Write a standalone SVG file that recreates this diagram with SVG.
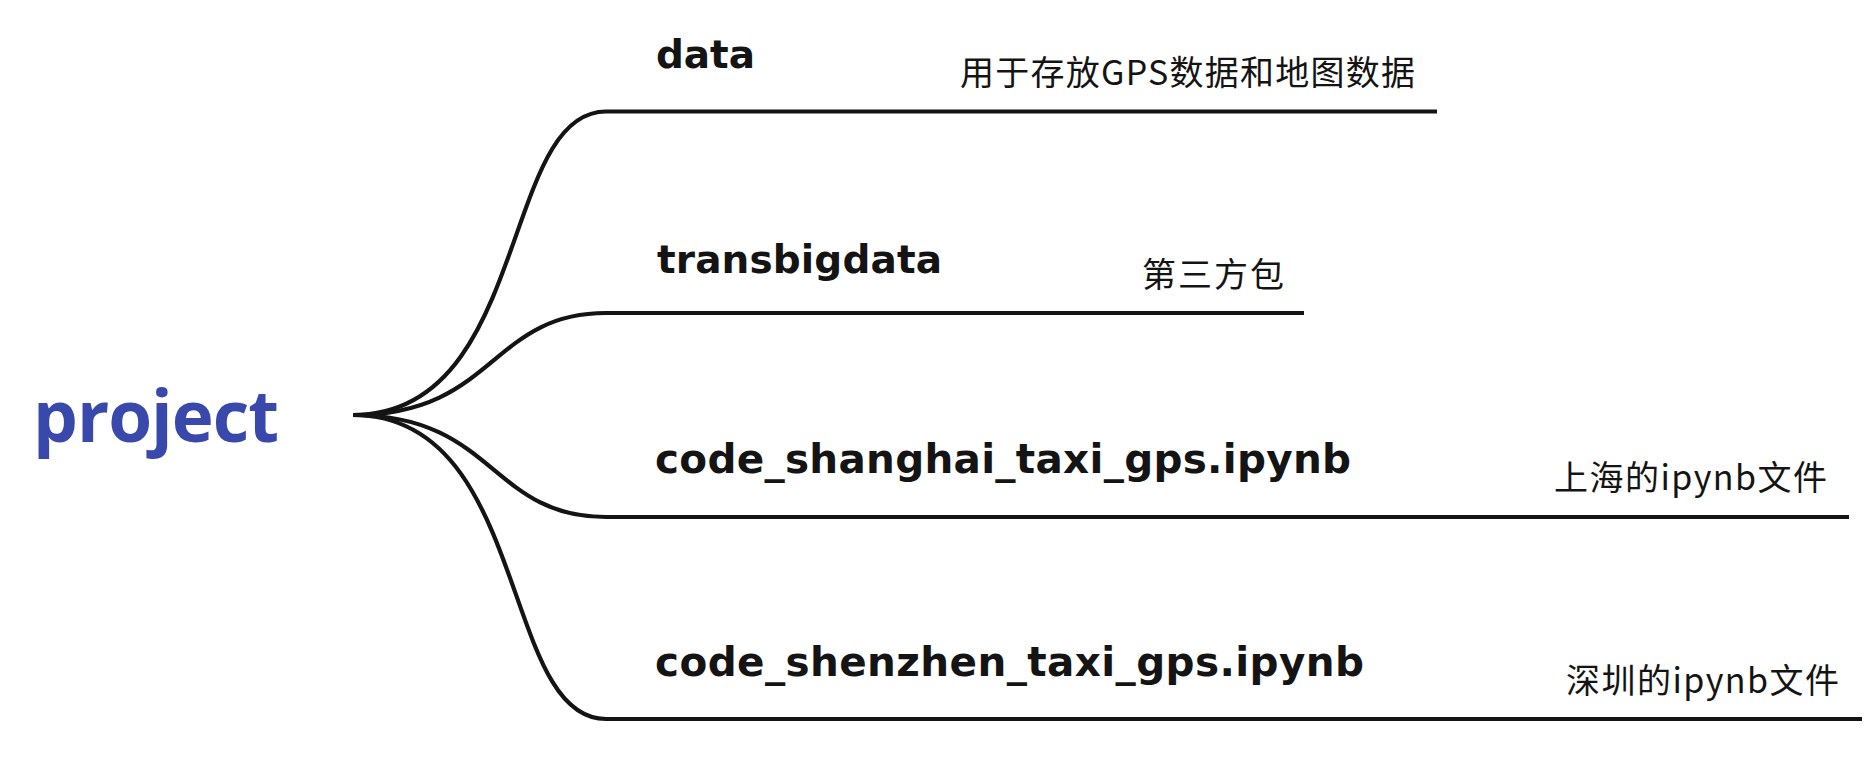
<svg xmlns="http://www.w3.org/2000/svg" width="1871" height="776" viewBox="0 0 1871 776">
<style>
.bg{fill:#ffffff}
.conn{fill:none;stroke:#141414;stroke-width:4.2;stroke-linecap:butt;stroke-linejoin:round}
.root{font-family:"Open Sans","DejaVu Sans",sans-serif;font-weight:700;font-size:71px;fill:#3949ab}
.topic{font-family:"DejaVu Sans","Open Sans",sans-serif;font-weight:700;font-size:39px;fill:#141414}
.topic.long{font-size:40.5px}
.note{font-family:"Noto Sans CJK SC","Noto Sans",sans-serif;font-weight:400;font-size:34px;fill:#141414}
</style>
<rect class="bg" x="0" y="0" width="1871" height="776"/>
<g id="connectors">
<path class="conn" d="M353,415 C530,415 500,111.5 606,111.5 L1437,111.5"/>
<path class="conn" d="M353,415 C495,415 490,313 606,313 L1304,313"/>
<path class="conn" d="M353,415 C495,415 490,517 606,517 L1849,517"/>
<path class="conn" d="M353,415 C530,415 500,719 606,719 L1862,719"/>
</g>
<g id="node-project">
<text class="root" x="33" y="442" textLength="246">project</text>
</g>
<g id="node-data">
<text class="topic" x="656" y="68" textLength="99">data</text>
<text class="note" x="960" y="85" textLength="455">用于存放GPS数据和地图数据</text>
</g>
<g id="node-transbigdata">
<text class="topic" x="657" y="273" textLength="285">transbigdata</text>
<text class="note" x="1142" y="287" textLength="142">第三方包</text>
</g>
<g id="node-shanghai">
<text class="topic long" x="655" y="473" textLength="696">code_shanghai_taxi_gps.ipynb</text>
<text class="note" x="1554" y="490" textLength="273">上海的ipynb文件</text>
</g>
<g id="node-shenzhen">
<text class="topic long" x="655" y="676" textLength="709">code_shenzhen_taxi_gps.ipynb</text>
<text class="note" x="1566" y="693" textLength="273">深圳的ipynb文件</text>
</g>
</svg>
